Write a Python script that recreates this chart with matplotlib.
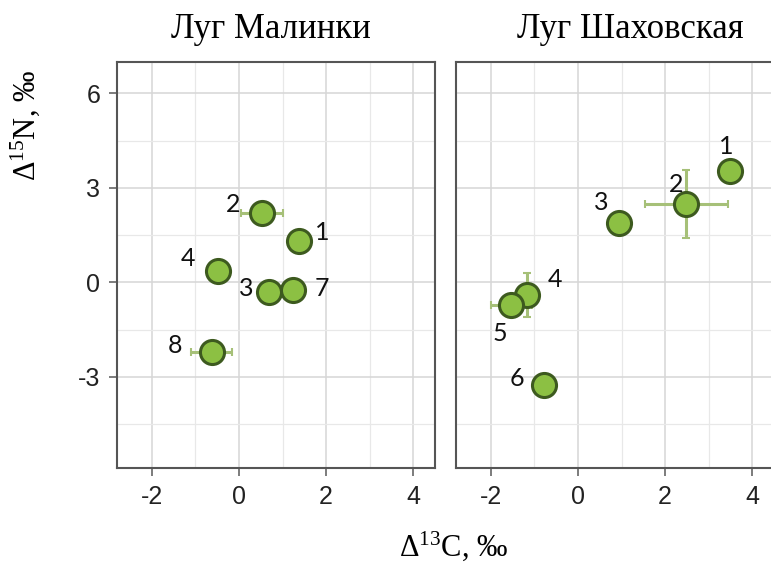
import matplotlib.pyplot as plt
from matplotlib.ticker import MultipleLocator

plt.rcParams['font.family'] = ['Liberation Sans', 'DejaVu Sans']
plt.rcParams['axes.unicode_minus'] = False
plt.rcParams['mathtext.fontset'] = 'custom'
plt.rcParams['mathtext.rm'] = 'Liberation Serif'
plt.rcParams['mathtext.it'] = 'Liberation Serif:italic'

# Луг Малинки
mal_labels = ['1', '2', '3', '4', '7', '8']
mal_x = [1.37, 0.53, 0.70, -0.49, 1.23, -0.63]
mal_y = [1.30, 2.19, -0.31, 0.36, -0.23, -2.22]
mal_xerr = [0.0, 0.49, 0.0, 0.0, 0.0, 0.48]
mal_yerr = [0.0, 0.0, 0.0, 0.0, 0.0, 0.0]

# Луг Шаховская
sha_labels = ['1', '2', '3', '4', '5', '6']
sha_x = [3.50, 2.49, 0.94, -1.16, -1.53, -0.77]
sha_y = [3.53, 2.48, 1.87, -0.39, -0.73, -3.25]
sha_xerr = [0.0, 0.95, 0.0, 0.0, 0.47, 0.0]
sha_yerr = [0.0, 1.08, 0.0, 0.70, 0.0, 0.0]

# смещения подписей точек, пиксели
mal_offsets = [(24, 9), (-29, 9), (-23, 4), (-30, 12), (29, 1), (-37, 7)]
sha_offsets = [(-4, 25), (-10, 20), (-18, 21), (28, 15), (-11, -28), (-27, 6)]

fill = '#8cc043'
edge = '#3d5a1f'
err_col = '#a6c078'

fig = plt.figure(figsize=(7.71, 5.67), dpi=100)
W, H = 771, 567
ax1 = fig.add_axes([117 / W, 1 - 468 / H, (435 - 117) / W, (468 - 62) / H])
ax2 = fig.add_axes([456 / W, 1 - 468 / H, (774 - 456) / W, (468 - 62) / H])

panels = [
    (ax1, mal_labels, mal_x, mal_y, mal_xerr, mal_yerr, mal_offsets),
    (ax2, sha_labels, sha_x, sha_y, sha_xerr, sha_yerr, sha_offsets),
]

for ax, labels, xs, ys, xe, ye, offs in panels:
    ax.set_xlim(-2.8, 4.5)
    ax.set_ylim(-5.9, 7.0)
    ax.xaxis.set_major_locator(MultipleLocator(2))
    ax.xaxis.set_minor_locator(MultipleLocator(1))
    ax.yaxis.set_major_locator(MultipleLocator(3))
    ax.yaxis.set_minor_locator(MultipleLocator(1.5))
    ax.grid(which='major', color='#d6d6d6', lw=1.1, zorder=0)
    ax.grid(which='minor', color='#e8e8e8', lw=0.9, zorder=0)
    ax.set_axisbelow(True)
    for s in ax.spines.values():
        s.set_color('#555555')
        s.set_linewidth(1.5)
    ax.tick_params(which='major', direction='out', length=6, width=1.2,
                   color='#666666', labelsize=18, labelcolor='#222222', pad=6)
    ax.tick_params(which='minor', length=0)

    ax.errorbar(xs, ys, xerr=xe, yerr=ye, fmt='none', ecolor=err_col,
                elinewidth=2.2, capsize=3, capthick=1.5, zorder=2)
    ax.scatter(xs, ys, s=300, color=fill, edgecolor=edge, linewidth=2.2, zorder=3)
    for lab, x, y, (dx, dy) in zip(labels, xs, ys, offs):
        ax.annotate(lab, (x, y), xytext=(dx, dy), textcoords='offset pixels',
                    ha='center', va='center', fontsize=18, family='Lato',
                    color='#111111', zorder=4)

ax2.set_yticklabels([])
ax2.tick_params(axis='y', length=0)

fig.text(271 / W, 1 - 30 / H, 'Луг Малинки', ha='center', va='center',
         fontsize=25, family='Liberation Serif')
fig.text(630 / W, 1 - 30 / H, 'Луг Шаховская', ha='center', va='center',
         fontsize=25, family='Liberation Serif')
fig.text(454 / W, 1 - 546 / H, r'$\mathrm{\Delta}^{13}$C, ‰', ha='center', va='center',
         fontsize=22, family='Liberation Serif')
fig.text(25 / W, 1 - 125 / H, r'$\mathrm{\Delta}^{15}$N, ‰', ha='center', va='center',
         rotation=90, fontsize=22, family='Liberation Serif')

fig.savefig('out.png', dpi=100)
